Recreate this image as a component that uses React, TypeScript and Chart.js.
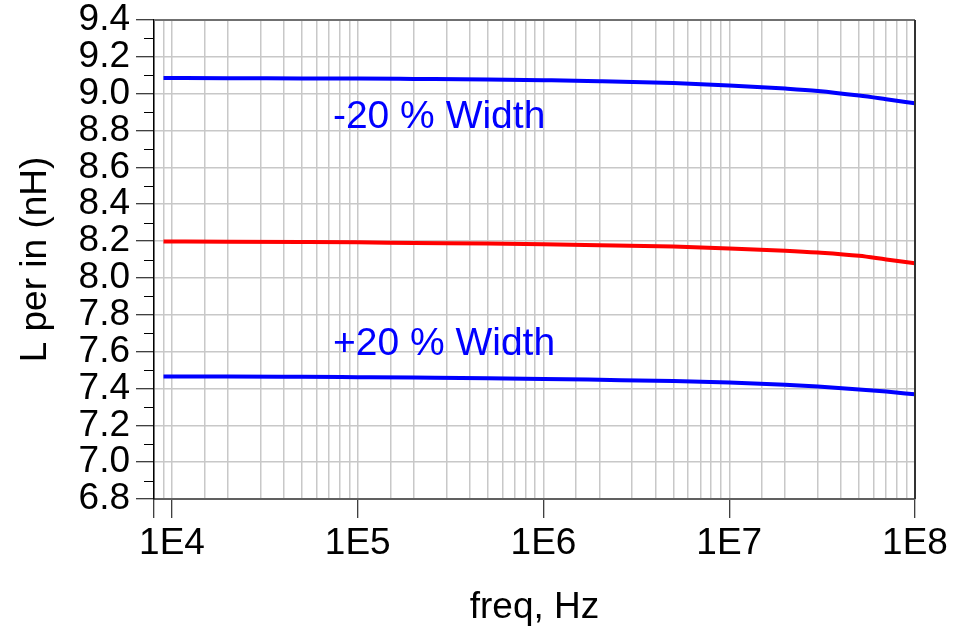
import { useEffect, useRef } from 'react';
import { Chart, registerables } from 'chart.js';
Chart.register(...registerables);

const freqHz = [9e3, 2e4, 5e4, 1e5, 2e5, 5e5, 1e6, 2e6, 5e6, 1e7, 2e7, 3e7, 5e7, 7e7, 1e8];
const narrowWidthL = [9.085, 9.084, 9.083, 9.082, 9.080, 9.077, 9.073, 9.068, 9.058, 9.045, 9.028, 9.015, 8.990, 8.970, 8.948];
const nominalWidthL = [8.198, 8.197, 8.195, 8.193, 8.190, 8.187, 8.183, 8.178, 8.170, 8.160, 8.148, 8.138, 8.120, 8.100, 8.080];
const wideWidthL = [7.465, 7.465, 7.463, 7.461, 7.459, 7.456, 7.452, 7.447, 7.440, 7.432, 7.420, 7.410, 7.395, 7.383, 7.368];

const annotationTexts = ['-20 % Width', '+20 % Width'];
const annotationFreq = [7.35e4, 7.35e4];
const annotationL = [8.812, 7.58];

const yMin = 6.8;
const yMax = 9.4;
const xMin = 8e3;
const xMax = 1e8;

const FONT = '"Liberation Sans", Arial, sans-serif';

const isDecade = (v: number) => {
  const e = Math.log10(v);
  return Math.abs(e - Math.round(e)) < 1e-9;
};

export default function App() {
  const ref = useRef<HTMLCanvasElement | null>(null);
  useEffect(() => {
    if (!ref.current) return;
    const extras = {
      id: 'extras',
      afterDraw(chart: any) {
        const { ctx, chartArea: a, scales } = chart;
        const ys = scales.y;
        const xs = scales.x;
        ctx.save();
        // minor y ticks
        ctx.strokeStyle = '#000';
        ctx.lineWidth = 1;
        for (let i = 1; i < Math.round((yMax - yMin) / 0.1); i += 2) {
          const py = Math.round(ys.getPixelForValue(yMin + i * 0.1)) + 0.5;
          ctx.beginPath();
          ctx.moveTo(a.left - 10, py);
          ctx.lineTo(a.left, py);
          ctx.stroke();
        }
        // top and right borders
        ctx.lineWidth = 2;
        ctx.strokeStyle = '#707070';
        ctx.beginPath();
        ctx.moveTo(a.left, a.top);
        ctx.lineTo(a.right, a.top);
        ctx.stroke();
        ctx.strokeStyle = '#333';
        ctx.beginPath();
        ctx.moveTo(a.right, a.top);
        ctx.lineTo(a.right, a.bottom);
        ctx.stroke();
        // annotations
        ctx.fillStyle = '#0000ff';
        ctx.font = `39px ${FONT}`;
        ctx.textBaseline = 'alphabetic';
        ctx.textAlign = 'left';
        annotationTexts.forEach((t, i) => {
          ctx.fillText(t, xs.getPixelForValue(annotationFreq[i]), ys.getPixelForValue(annotationL[i]));
        });
        ctx.restore();
      },
    };
    const toXY = (arr: number[]) => arr.map((v, i) => ({ x: freqHz[i], y: v }));
    const chart = new Chart(ref.current, {
      type: 'line',
      data: {
        datasets: [
          { label: '-20 % Width', data: toXY(narrowWidthL), borderColor: '#0000ff', borderWidth: 4, pointRadius: 0, cubicInterpolationMode: 'monotone' },
          { label: 'Nominal', data: toXY(nominalWidthL), borderColor: '#ff0000', borderWidth: 4, pointRadius: 0, cubicInterpolationMode: 'monotone' },
          { label: '+20 % Width', data: toXY(wideWidthL), borderColor: '#0000ff', borderWidth: 4, pointRadius: 0, cubicInterpolationMode: 'monotone' },
        ],
      },
      options: {
        responsive: false,
        animation: false,
        layout: { padding: { left: 0, right: 46, top: 20, bottom: 0 } },
        plugins: { legend: { display: false }, tooltip: { enabled: false } },
        scales: {
          x: {
            type: 'logarithmic',
            min: xMin,
            max: xMax,
            afterFit: (s: any) => { s.height = 131; s.paddingLeft = 0; s.paddingRight = 0; },
            grid: {
              color: '#c8c8c8',
              lineWidth: 1.5,
              tickLength: 19,
              tickColor: (c: any) => (c.tick && (isDecade(c.tick.value) || c.index === 0) ? '#000' : 'rgba(0,0,0,0)'),
              tickWidth: 1,
            },
            border: { display: true, color: '#606060', width: 2 },
            ticks: {
              autoSkip: false,
              maxRotation: 0,
              minRotation: 0,
              padding: 4,
              color: '#000',
              font: { family: FONT, size: 37 },
              callback: (v: any) => (isDecade(Number(v)) ? '1E' + Math.round(Math.log10(Number(v))) : ''),
            },
            title: { display: true, text: 'freq, Hz', color: '#000', font: { family: FONT, size: 37 }, padding: { top: 0, bottom: 0 } },
          },
          y: {
            type: 'linear',
            min: yMin,
            max: yMax,
            afterFit: (s: any) => { s.width = 154; s.paddingTop = 0; s.paddingBottom = 0; },
            grid: { color: '#c8c8c8', lineWidth: 1.5, tickLength: 18, tickColor: '#000', tickWidth: 1 },
            border: { display: true, color: '#000', width: 1.5 },
            ticks: {
              stepSize: 0.2,
              autoSkip: false,
              padding: 6,
              color: '#000',
              font: { family: FONT, size: 37 },
              callback: (v: any) => Number(v).toFixed(1),
            },
            title: { display: true, text: 'L per in (nH)', color: '#000', font: { family: FONT, size: 37 }, padding: { top: 14, bottom: 0 } },
          },
        },
      },
      plugins: [extras],
    } as any);
    return () => chart.destroy();
  }, []);
  return (
    <div style={{ position: 'fixed', left: 0, top: 0, width: 961, height: 630, background: '#fff' }}>
      <canvas ref={ref} width={961} height={630} />
    </div>
  );
}
